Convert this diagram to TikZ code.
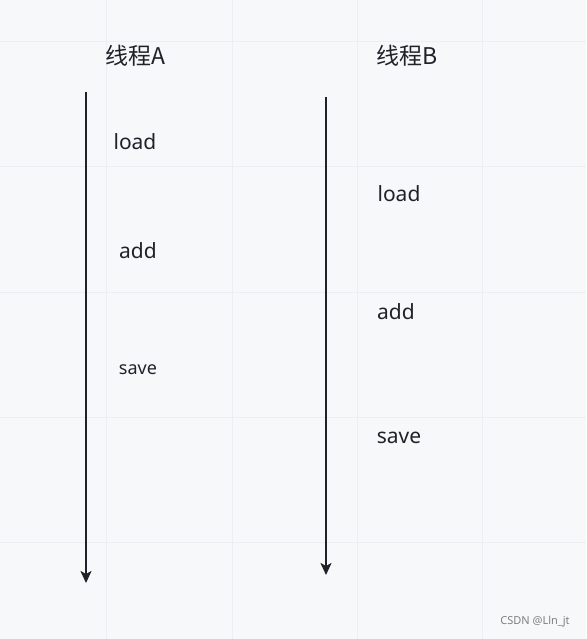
\documentclass[tikz,border=0pt]{standalone}
\usepackage{fontspec}
\setmainfont{Noto Sans}
\newfontfamily\cjkfont{Noto Sans CJK SC}
\usetikzlibrary{arrows.meta}
\definecolor{bgcol}{HTML}{F7F8FA}
\definecolor{gridcol}{HTML}{EDEEF1}
\definecolor{inkcol}{HTML}{1F2329}
\begin{document}
\begin{tikzpicture}[x=1pt,y=-1pt]
        \tikzset{label/.style = {text=inkcol,font=\fontsize{21}{24}\selectfont,inner sep=0pt}}
        \tikzset{title/.style = {text=inkcol,font=\cjkfont\fontsize{23}{26}\selectfont,inner sep=0pt}}
        \tikzset{time/.style = {-{Stealth[length=12pt,width=11pt,inset=3pt]},line width=2.2pt,draw=inkcol}}
        \fill[bgcol] (0,0) rectangle (586,639);
        \useasboundingbox (0,0) rectangle (586,639);
        \foreach \x in {106,232,357,482}
          \draw[gridcol,line width=1pt] (\x,0) -- (\x,639);
        \foreach \y in {42,167,292,417,542}
          \draw[gridcol,line width=1pt] (0,\y) -- (586,\y);

        \node[title] (tA) at (135, 56) {线程A};
        \node[title] (tB) at (407, 56) {线程B};

        \coordinate (a1) at (86, 92);
        \coordinate (a2) at (86, 583);
        \coordinate (b1) at (326, 97);
        \coordinate (b2) at (326, 575);

        \node[label] (loadA) at (135, 142) {load};
        \node[label] (addA) at (138, 251) {add};
        \node[label,font=\fontsize{18}{22}\selectfont] (saveA) at (138, 370) {save};
        \node[label] (loadB) at (399, 194) {load};
        \node[label] (addB) at (396, 312) {add};
        \node[label] (saveB) at (399, 438) {save};

        \node[text=gray,font=\fontsize{11}{13}\selectfont,inner sep=0pt] (mark) at (535, 622) {CSDN @Lln\_jt};

        \draw[time] (a1) to (a2);
        \draw[time] (b1) to (b2);
      \end{tikzpicture}
\end{document}
